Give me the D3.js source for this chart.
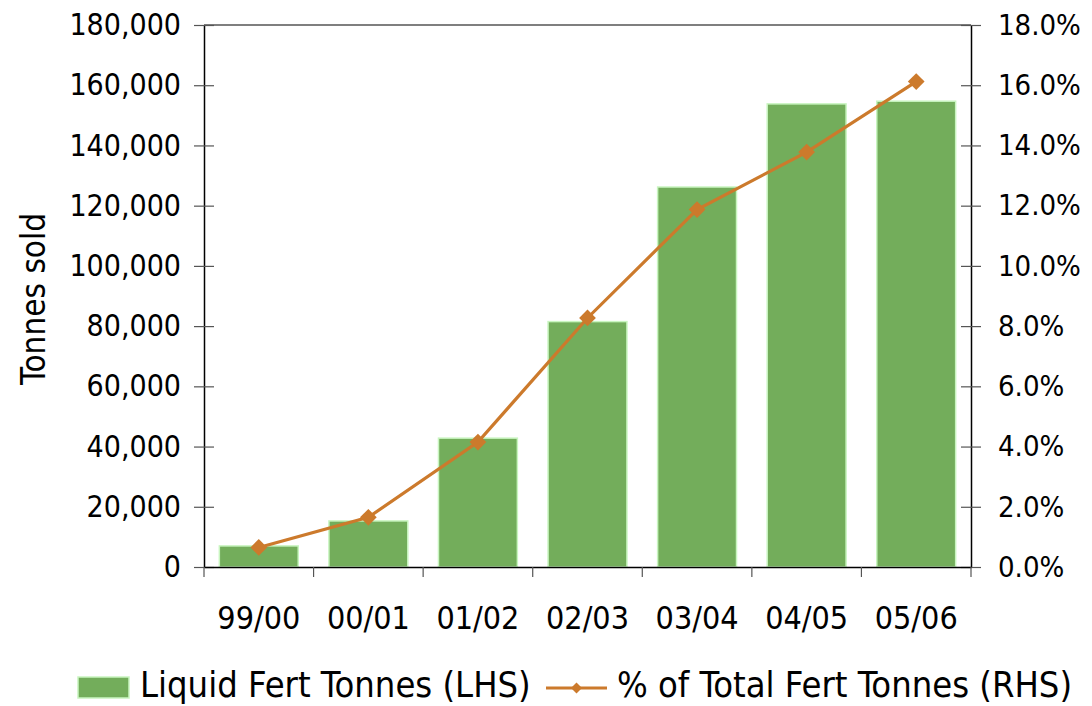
<!DOCTYPE html>
<html>
<head>
<meta charset="utf-8">
<script src="https://cdn.jsdelivr.net/npm/d3@7/dist/d3.min.js"></script>
<style>
  html, body { margin: 0; padding: 0; background: #fff; }
  svg { display: block; }
  text { font-family: "DejaVu Sans Condensed", "DejaVu Sans", sans-serif; fill: #000; }
</style>
</head>
<body>
<svg id="chart" width="1092" height="706"></svg>
<script>
// Season labels and values
const seasons = ["99/00", "00/01", "01/02", "02/03", "03/04", "04/05", "05/06"];
const liquidTonnes = [7000, 15300, 42800, 81500, 126200, 153800, 154700];
const shareOfTotal = [0.0065, 0.0165, 0.0415, 0.0827, 0.1187, 0.1378, 0.1612];
const leftTicks = [0, 20000, 40000, 60000, 80000, 100000, 120000, 140000, 160000, 180000];
const rightTicks = [0, 0.02, 0.04, 0.06, 0.08, 0.10, 0.12, 0.14, 0.16, 0.18];

const barFill = "#73ad5b", barEdge = "#c9f5c0", lineColor = "#cc7a2c";
const FONT = "DejaVu Sans Condensed";

const svg = d3.select("#chart");
const m = { left: 204, right: 971, top: 25, bottom: 567 };

const x = d3.scaleBand().domain(seasons).range([m.left, m.right]).paddingInner(0.28).paddingOuter(0.14);
const xTicks = d3.scaleBand().domain(seasons).range([m.left, m.right]);
const yL = d3.scaleLinear().domain([0, 180000]).range([m.bottom, m.top]);
const yR = d3.scaleLinear().domain([0, 0.18]).range([m.bottom, m.top]);

// Bars
svg.append("g").selectAll("rect").data(seasons).join("rect")
  .attr("x", d => x(d))
  .attr("width", x.bandwidth())
  .attr("y", (d, i) => yL(liquidTonnes[i]))
  .attr("height", (d, i) => m.bottom - yL(liquidTonnes[i]))
  .attr("fill", barFill)
  .attr("stroke", barEdge)
  .attr("stroke-width", 1.5);

// Top border of plot area
svg.append("line").attr("x1", m.left).attr("x2", m.right).attr("y1", m.top).attr("y2", m.top)
  .attr("stroke", "#000").attr("stroke-width", 1.2);

// Left axis
const fmtL = d3.format(",");
const gL = svg.append("g").attr("transform", `translate(${m.left},0)`)
  .call(d3.axisLeft(yL).tickValues(leftTicks).tickFormat(fmtL).tickSize(0).tickPadding(23));
gL.select(".domain").attr("stroke", "#000").attr("stroke-width", 1.5);
gL.selectAll("text").attr("font-size", 30).attr("font-family", FONT);
gL.selectAll(".tick").append("line").attr("x1", -10).attr("x2", 10).attr("stroke", "#555").attr("stroke-width", 1.2);

// Right axis
const fmtR = d3.format(".1%");
const gR = svg.append("g").attr("transform", `translate(${m.right},0)`)
  .call(d3.axisRight(yR).tickValues(rightTicks).tickFormat(fmtR).tickSize(0).tickPadding(27));
gR.select(".domain").attr("stroke", "#000").attr("stroke-width", 1.5);
gR.selectAll("text").attr("font-size", 29).attr("font-family", FONT);
gR.selectAll(".tick").append("line").attr("x1", -10).attr("x2", 10).attr("stroke", "#555").attr("stroke-width", 1.2);

// Bottom axis
const gB = svg.append("g").attr("transform", `translate(0,${m.bottom})`)
  .call(d3.axisBottom(x).tickSize(0).tickPadding(39));
gB.select(".domain").attr("stroke", "#000").attr("stroke-width", 1.5);
gB.selectAll("text").attr("font-size", 32).attr("font-family", FONT);
const tickEdges = seasons.map(s => xTicks(s)).concat([m.right]);
gB.selectAll(".edge").data(tickEdges).join("line").attr("class", "edge")
  .attr("x1", d => d).attr("x2", d => d).attr("y1", 0).attr("y2", 10)
  .attr("stroke", "#555").attr("stroke-width", 1.2);

// Percentage line with diamond markers
const linePts = seasons.map((s, i) => [x(s) + x.bandwidth() / 2, yR(shareOfTotal[i])]);
svg.append("path").attr("d", d3.line()(linePts))
  .attr("fill", "none").attr("stroke", lineColor).attr("stroke-width", 3.2);
svg.append("g").selectAll("path").data(linePts).join("path")
  .attr("d", d3.symbol(d3.symbolSquare, 140)())
  .attr("transform", d => `translate(${d[0]},${d[1]}) rotate(45)`)
  .attr("fill", lineColor);

// Y-axis title
svg.append("text").attr("transform", "translate(45,299) rotate(-90)")
  .attr("text-anchor", "middle").attr("font-size", 33).attr("font-family", FONT).text("Tonnes sold");

// Legend
const leg = svg.append("g");
leg.append("rect").attr("x", 78).attr("y", 677).attr("width", 51).attr("height", 21)
  .attr("fill", barFill).attr("stroke", barEdge).attr("stroke-width", 1.5);
leg.append("text").attr("x", 140).attr("y", 697).attr("font-size", 36).attr("font-family", FONT)
  .text("Liquid Fert Tonnes (LHS)");
leg.append("line").attr("x1", 546).attr("x2", 607).attr("y1", 688).attr("y2", 688)
  .attr("stroke", lineColor).attr("stroke-width", 3.2);
leg.append("path").attr("d", d3.symbol(d3.symbolSquare, 60)())
  .attr("transform", "translate(576.5,688) rotate(45)").attr("fill", lineColor);
leg.append("text").attr("x", 617).attr("y", 697).attr("font-size", 36).attr("font-family", FONT)
  .text("% of Total Fert Tonnes (RHS)");
</script>
</body>
</html>
